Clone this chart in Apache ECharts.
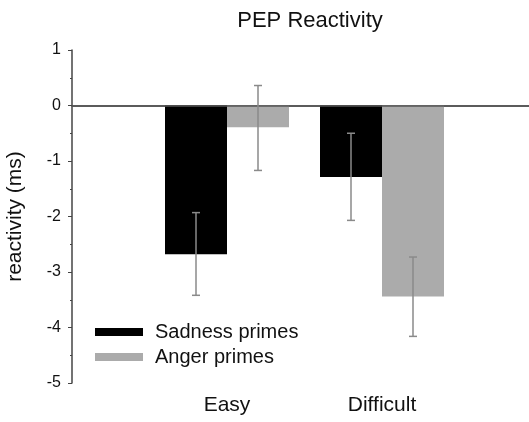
<!DOCTYPE html>
<html>
<head>
<meta charset="utf-8">
<script src="https://cdn.jsdelivr.net/npm/echarts@6/dist/echarts.min.js"></script>
<style>
  html, body { margin: 0; padding: 0; background: #fff; }
  #container { width: 529px; height: 422px; }
</style>
</head>
<body>
<div id="container"></div>
<script>
// values (ms)
var categories = ['', 'Easy', 'Difficult', ''];
var sadness = [null, -2.68, -1.29, null];
var anger = [null, -0.39, -3.44, null];
var sadnessHigh = [null, -1.93, -0.50, null];
var sadnessLow = [null, -3.42, -2.07, null];
var angerHigh = [null, 0.36, -2.73, null];
var angerLow = [null, -1.17, -4.16, null];

var dom = document.getElementById('container');
var myChart = echarts.init(dom);

var BAR_W = 62;

function errData(high, low) {
  var res = [];
  for (var i = 0; i < categories.length; i++) {
    if (high[i] !== null) res.push([categories[i], low[i], high[i]]);
  }
  return res;
}

function errRender(shift) {
  return function (params, api) {
    var idx = api.value(0);
    var lo = api.coord([idx, api.value(1)]);
    var hi = api.coord([idx, api.value(2)]);
    var x = lo[0] + shift;
    var cap = 4;
    var style = { stroke: '#8a8a8a', lineWidth: 1.5 };
    return {
      type: 'group',
      children: [
        { type: 'line', shape: { x1: x, y1: hi[1], x2: x, y2: lo[1] }, style: style },
        { type: 'line', shape: { x1: x - cap, y1: hi[1], x2: x + cap, y2: hi[1] }, style: style },
        { type: 'line', shape: { x1: x - cap, y1: lo[1], x2: x + cap, y2: lo[1] }, style: style }
      ]
    };
  };
}

var option = {
  backgroundColor: '#fff',
  textStyle: { fontFamily: 'Liberation Sans, Arial, sans-serif' },
  title: {
    text: 'PEP Reactivity',
    left: 305,
    top: 5,
    textAlign: 'center',
    textStyle: { fontSize: 22, fontWeight: 'normal', color: '#111' }
  },
  legend: {
    orient: 'vertical',
    left: 95,
    top: 322,
    padding: 0,
    icon: 'rect',
    itemWidth: 48,
    itemHeight: 8,
    itemGap: 5,
    data: ['Sadness primes', 'Anger primes'],
    textStyle: { fontSize: 20, lineHeight: 20, color: '#111', padding: [0, 0, 0, 7] },
    selectedMode: false
  },
  grid: { left: 72, top: 50, width: 465, bottom: 39, outerBoundsMode: 'none' },
  xAxis: {
    type: 'category',
    data: categories,
    boundaryGap: false,
    axisLine: { lineStyle: { color: '#444', width: 1.5 } },
    axisTick: {
      length: 3,
      interval: function (index, value) { return value !== ''; },
      lineStyle: { color: '#444' }
    },
    axisLabel: { fontSize: 21, color: '#111', margin: 12 },
    splitLine: { show: false }
  },
  yAxis: {
    type: 'value',
    min: -5,
    max: 1,
    interval: 1,
    name: 'reactivity (ms)',
    nameLocation: 'middle',
    nameGap: 46,
    nameTextStyle: { fontSize: 21, color: '#111' },
    axisLine: { show: true, lineStyle: { color: '#444', width: 1.5 } },
    axisTick: { show: true, length: 4, lineStyle: { color: '#444' } },
    minorTick: { show: true, splitNumber: 2, length: 2, lineStyle: { color: '#444' } },
    axisLabel: { fontSize: 16, color: '#111', margin: 11 },
    splitLine: { show: false }
  },
  series: [
    {
      name: 'Sadness primes',
      type: 'bar',
      data: sadness,
      barWidth: BAR_W,
      barGap: '0%',
      itemStyle: { color: '#000' },
      markLine: {
        silent: true,
        symbol: 'none',
        label: { show: false },
        lineStyle: { color: '#555', width: 1.5, type: 'solid' },
        data: [{ yAxis: 0 }]
      }
    },
    {
      name: 'Anger primes',
      type: 'bar',
      data: anger,
      barWidth: BAR_W,
      itemStyle: { color: '#ababab' }
    },
    {
      type: 'custom',
      renderItem: errRender(-BAR_W / 2),
      data: errData(sadnessHigh, sadnessLow),
      z: 10
    },
    {
      type: 'custom',
      renderItem: errRender(BAR_W / 2),
      data: errData(angerHigh, angerLow),
      z: 10
    }
  ]
};

myChart.setOption(option);
window.onresize = myChart.resize;
</script>
</body>
</html>
